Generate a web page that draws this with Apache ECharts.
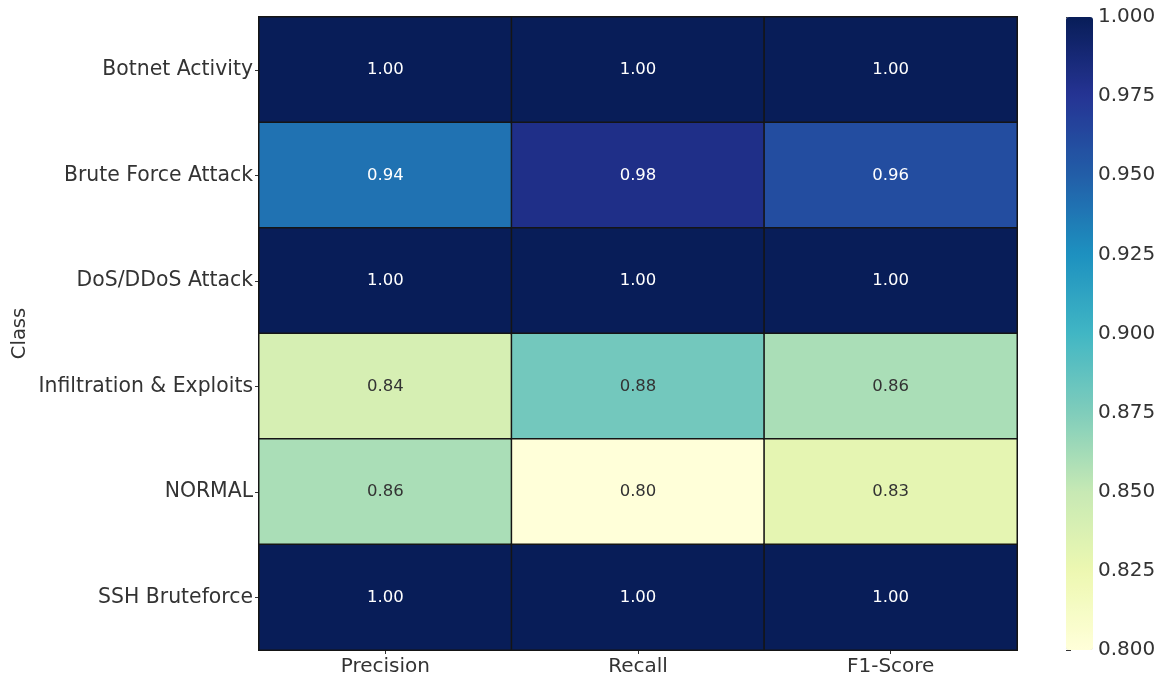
<!DOCTYPE html>
<html>
<head>
<meta charset="utf-8">
<script src="https://cdn.jsdelivr.net/npm/echarts@6/dist/echarts.min.js"></script>
<style>
  html, body { margin: 0; padding: 0; background: #ffffff; }
  #chart { width: 1165px; height: 679px; }
</style>
</head>
<body>
<div id="chart"></div>
<script>
// Per-class classification metrics
const classes = ['Botnet Activity', 'Brute Force Attack', 'DoS/DDoS Attack', 'Infiltration & Exploits', 'NORMAL', 'SSH Bruteforce'];
const metrics = ['Precision', 'Recall', 'F1-Score'];
const precision = [1.00, 0.94, 1.00, 0.84, 0.86, 1.00];
const recall    = [1.00, 0.98, 1.00, 0.88, 0.80, 1.00];
const f1Score   = [1.00, 0.96, 1.00, 0.86, 0.83, 1.00];
const colorTicks = [0.800, 0.825, 0.850, 0.875, 0.900, 0.925, 0.950, 0.975, 1.000];

// YlGnBu palette
const ylGnBu = ['#ffffd9', '#edf8b1', '#c7e9b4', '#7fcdbb', '#41b6c4', '#1d91c0', '#225ea8', '#253494', '#081d58'];

const columns = [precision, recall, f1Score];
const cells = [];
columns.forEach((col, xi) => {
  col.forEach((v, yi) => {
    cells.push({
      value: [xi, yi, v],
      label: { color: v >= 0.9 ? '#ffffff' : '#333333' }
    });
  });
});

const FONT = '"DejaVu Sans", sans-serif';
const TEXT = '#333333';

const chart = echarts.init(document.getElementById('chart'), null, { renderer: 'canvas' });
chart.setOption({
  backgroundColor: '#ffffff',
  animation: false,
  grid: [
    { left: 259, top: 17, width: 758, height: 633, outerBoundsMode: 'none' },
    { left: 1066, top: 17, width: 27, height: 633, outerBoundsMode: 'none' }
  ],
  xAxis: [
    {
      gridIndex: 0, type: 'category', data: metrics,
      axisLine: { show: true, lineStyle: { color: '#9a9a9a', width: 1 } },
      axisTick: { show: true, alignWithLabel: true, length: 4, lineStyle: { color: '#333' } },
      axisLabel: { fontFamily: FONT, fontSize: 20, color: TEXT, margin: 7 },
      splitLine: { show: false }
    },
    { gridIndex: 1, type: 'value', show: false, min: 0, max: 1 }
  ],
  yAxis: [
    {
      gridIndex: 0, type: 'category', data: classes, inverse: true,
      name: 'Class', nameLocation: 'middle', nameGap: 229, nameRotate: 90,
      nameMoveOverlap: false,
      nameTextStyle: { fontFamily: FONT, fontSize: 19.5, color: TEXT },
      axisLine: { show: true, lineStyle: { color: '#9a9a9a', width: 1 } },
      axisTick: { show: true, alignWithLabel: true, length: 4, lineStyle: { color: '#333' } },
      axisLabel: { fontFamily: FONT, fontSize: 20.4, color: TEXT, margin: 6 },
      splitLine: { show: false }
    },
    {
      gridIndex: 1, type: 'value', position: 'right',
      min: colorTicks[0], max: colorTicks[colorTicks.length - 1], interval: 0.025,
      axisLine: { show: false },
      axisTick: { show: true, length: 5, lineStyle: { color: '#333' } },
      axisLabel: { fontFamily: FONT, fontSize: 20, color: TEXT, margin: 5, formatter: v => v.toFixed(3) },
      splitLine: { show: false }
    }
  ],
  visualMap: {
    type: 'continuous',
    min: 0.8, max: 1.0,
    seriesIndex: 0,
    calculable: false,
    orient: 'vertical',
    left: 1066, top: 17,
    itemWidth: 27, itemHeight: 633,
    padding: 0,
    text: null,
    showLabel: false,
    inRange: { color: ylGnBu },
    textStyle: { color: 'transparent' }
  },
  series: [{
    type: 'heatmap',
    xAxisIndex: 0, yAxisIndex: 0,
    data: cells,
    label: {
      show: true,
      fontFamily: FONT, fontSize: 16.5,
      formatter: p => p.value[2].toFixed(2)
    },
    itemStyle: { borderColor: '#151515', borderWidth: 1.5 },
    emphasis: { disabled: true }
  }]
});
</script>
</body>
</html>
